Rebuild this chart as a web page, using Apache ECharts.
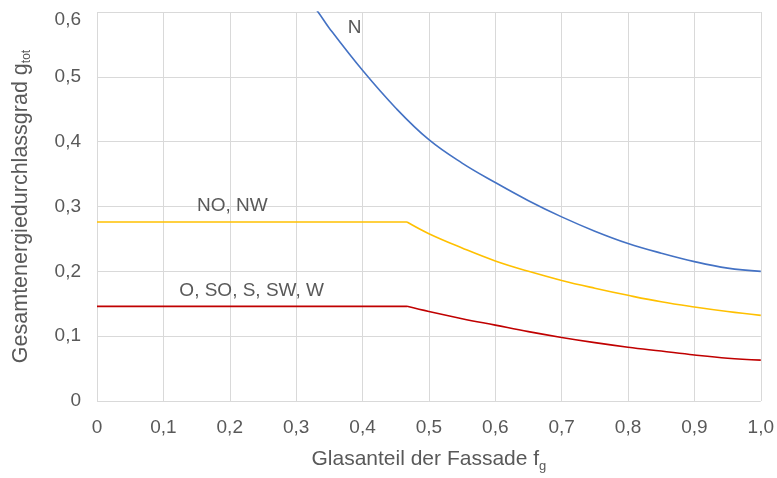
<!DOCTYPE html>
<html><head><meta charset="utf-8">
<script src="https://cdn.jsdelivr.net/npm/echarts@6/dist/echarts.min.js"></script>
<style>html,body{margin:0;padding:0;background:#fff}#c{width:777px;height:478px}</style>
</head><body><div id="c"></div>
<script>
var xN  = [0.31, 0.333, 0.35, 0.4, 0.45, 0.5, 0.55, 0.6, 0.65, 0.7, 0.75, 0.8, 0.85, 0.9, 0.95, 1.0];
var yN  = [0.63, 0.600, 0.575, 0.51, 0.452, 0.403, 0.367, 0.337, 0.309, 0.284, 0.262, 0.243, 0.228, 0.215, 0.205, 0.200];
var xNO = [0, 0.467, 0.5, 0.55, 0.6, 0.65, 0.7, 0.75, 0.8, 0.85, 0.9, 0.95, 1.0];
var yNO = [0.276, 0.276, 0.258, 0.236, 0.216, 0.200, 0.186, 0.174, 0.163, 0.153, 0.145, 0.138, 0.132];
var xO  = [0, 0.467, 0.5, 0.55, 0.6, 0.65, 0.7, 0.75, 0.8, 0.85, 0.9, 0.95, 1.0];
var yO  = [0.146, 0.146, 0.138, 0.127, 0.117, 0.107, 0.098, 0.090, 0.083, 0.077, 0.071, 0.066, 0.063];
var seriesNames = ['N', 'NO, NW', 'O, SO, S, SW, W'];
var labelPos = [[0.388, 0.575], [0.204, 0.301], [0.233, 0.170]];
var colors = ['#4472C4', '#FFC000', '#C00000'];
var flatEnd = [0, 1, 1]; // index of the last point of the flat part (0 = none)

function pairs(xs, ys){ return xs.map(function(x,i){ return [x, ys[i]]; }); }
function fmt(v){ return v === 0 ? '0' : v.toFixed(1).replace('.', ','); }
var font = 'Liberation Sans, Arial, sans-serif';
var gray = '#595959';
var data = [pairs(xN,yN), pairs(xNO,yNO), pairs(xO,yO)];

var series = [];
data.forEach(function(d, i){
  var k = flatEnd[i];
  if (k > 0) {
    series.push({
      type: 'line', name: seriesNames[i], data: d.slice(0, k + 1), showSymbol: false,
      smooth: false, lineStyle: {color: colors[i], width: 1.6}
    });
  }
  series.push({
    type: 'line', name: seriesNames[i], data: d.slice(k), showSymbol: false,
    smooth: 0.4, clip: true,
    lineStyle: {color: colors[i], width: 1.6},
    markPoint: {
      symbol: 'circle', symbolSize: 0,
      data: [{coord: labelPos[i], value: seriesNames[i]}],
      label: {show: true, formatter: seriesNames[i], color: gray, fontSize: 19, fontFamily: font}
    }
  });
});

var chart = echarts.init(document.getElementById('c'));
chart.setOption({
  animation: false,
  grid: {left: 97, right: 13, top: 12, bottom: 75},
  xAxis: {
    type: 'value', min: 0, max: 1, interval: 0.1,
    axisLine: {show: false}, axisTick: {show: false},
    splitLine: {lineStyle: {color: '#D9D9D9', width: 1}},
    axisLabel: {formatter: fmt, color: gray, fontSize: 19, fontFamily: font, margin: 17},
    name: '{a|Glasanteil der Fassade f}{b|g}',
    nameLocation: 'middle', nameGap: 45,
    nameTextStyle: {rich: {
      a: {fontSize: 21, color: gray, fontFamily: font},
      b: {fontSize: 13, color: gray, fontFamily: font, padding: [14, 0, 0, 0]}
    }}
  },
  yAxis: {
    type: 'value', min: 0, max: 0.6, interval: 0.1,
    axisLine: {show: false}, axisTick: {show: false},
    splitLine: {lineStyle: {color: '#D9D9D9', width: 1}},
    axisLabel: {
      formatter: function(v){ return Math.abs(v - 0.6) < 1e-9 ? '{t|' + fmt(v) + '}' : fmt(v); },
      color: gray, fontSize: 19, fontFamily: font, margin: 16,
      rich: {t: {fontSize: 19, color: gray, fontFamily: font, padding: [16, 0, 0, 0]}}
    },
    name: '{a|Gesamtenergiedurchlassgrad g}{b|tot}',
    nameLocation: 'middle', nameGap: 64,
    nameTextStyle: {rich: {
      a: {fontSize: 21.5, color: gray, fontFamily: font},
      b: {fontSize: 12, color: gray, fontFamily: font, padding: [12, 0, 0, 0]}
    }}
  },
  series: series
});
</script></body></html>
